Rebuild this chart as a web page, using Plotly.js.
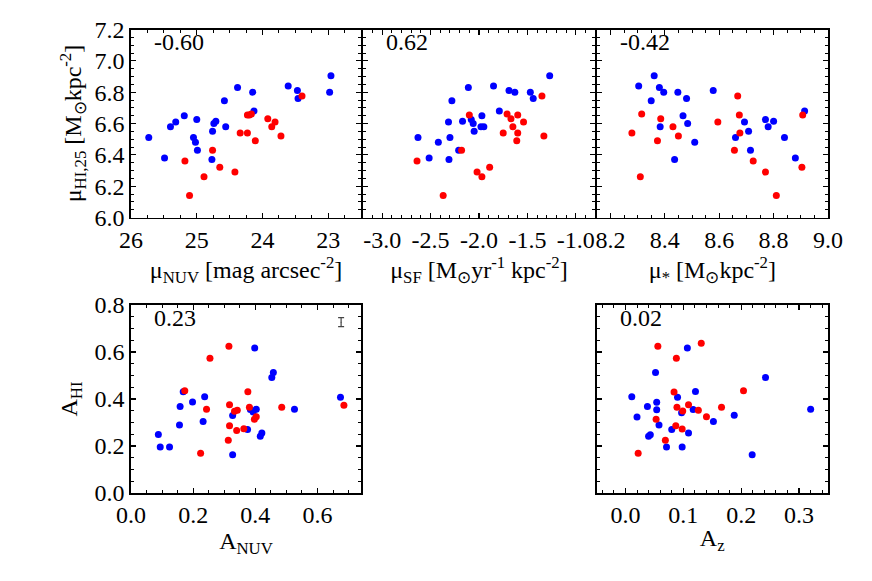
<!DOCTYPE html>
<html>
<head>
<meta charset="utf-8">
<script src="https://cdn.plot.ly/plotly-3.0.1.min.js"></script>
<style>
  html, body { margin: 0; padding: 0; background: #fff; }
  #chart { width: 872px; height: 581px; }
</style>
</head>
<body>
<div id="chart"></div>
<script>
// top row: HI surface density vs NUV, SFR and stellar surface densities
const muHiBlue = [6.37, 6.38, 6.43, 6.48, 6.51, 6.51, 6.55, 6.58, 6.58, 6.60, 6.61, 6.615,
  6.625, 6.65, 6.68, 6.745, 6.76, 6.80, 6.80, 6.81, 6.83, 6.84, 6.905];
const muNuvBlue = [24.77, 25.49, 24.99, 25.02, 25.73, 25.05, 24.76, 25.40, 24.56, 24.74, 25.32, 24.71,
  25.00, 25.19, 24.13, 24.58, 23.46, 24.15, 22.98, 23.47, 24.38, 23.61, 22.96];
const muSfBlue = [-2.31, -2.515, -2.21, -2.42, -2.63, -2.30, -2.05, -1.98, -1.95, -2.06, -2.315, -2.17,
  -2.08, -1.97, -1.79, -2.28, -1.44, -1.63, -1.47, -1.69, -2.11, -1.85, -1.27];
const muStarBlue = [8.436, 8.88, 8.715, 8.51, 8.66, 8.84, 8.708, 8.383, 8.78, 8.484, 8.693, 8.80,
  8.77, 8.467, 8.914, 8.35, 8.48, 8.448, 8.396, 8.578, 8.38, 8.304, 8.361];

const muHiRed = [6.14, 6.26, 6.29, 6.32, 6.36, 6.43, 6.49, 6.52, 6.54, 6.54, 6.58, 6.61,
  6.63, 6.655, 6.655, 6.66, 6.775];
const muNuvRed = [25.11, 24.89, 24.42, 24.65, 25.18, 24.76, 24.11, 23.72, 24.34, 24.23, 23.86, 23.81,
  23.92, 24.23, 24.20, 24.17, 23.40];
const muSfRed = [-2.37, -1.97, -2.02, -1.89, -2.64, -2.18, -1.61, -1.33, -1.75, -1.60, -1.65, -1.54,
  -1.67, -1.60, -2.10, -1.71, -1.35];
const muStarRed = [8.81, 8.31, 8.77, 8.904, 8.725, 8.656, 8.373, 8.45, 8.676, 8.279, 8.43, 8.595,
  8.385, 8.674, 8.907, 8.315, 8.668];

// bottom row: HI asymmetry vs NUV and z-band asymmetry
const aNuvBlue = [0.088, 0.094, 0.124, 0.156, 0.158, 0.168, 0.198, 0.232, 0.237, 0.327, 0.327,
  0.375, 0.384, 0.393, 0.403, 0.398, 0.416, 0.421, 0.453, 0.458, 0.526, 0.674];
const aHiBlueL = [0.249, 0.196, 0.196, 0.289, 0.368, 0.431, 0.387, 0.304, 0.410, 0.330, 0.163,
  0.270, 0.355, 0.345, 0.356, 0.617, 0.241, 0.255, 0.492, 0.513, 0.356, 0.407];
const aNuvRed = [0.173, 0.224, 0.243, 0.254, 0.315, 0.317, 0.313, 0.317, 0.333, 0.342, 0.340,
  0.363, 0.376, 0.381, 0.397, 0.403, 0.485, 0.685];
const aHiRedL = [0.435, 0.169, 0.356, 0.573, 0.624, 0.376, 0.225, 0.286, 0.348, 0.352, 0.266,
  0.273, 0.431, 0.365, 0.314, 0.324, 0.365, 0.373];

const aZBlue = [0.011, 0.020, 0.038, 0.040, 0.043, 0.052, 0.054, 0.054, 0.058, 0.071, 0.080, 0.090,
  0.097, 0.098, 0.107, 0.109, 0.117, 0.121, 0.152, 0.188, 0.219, 0.242, 0.320];
const aHiBlueR = [0.410, 0.323, 0.368, 0.242, 0.248, 0.513, 0.386, 0.354, 0.289, 0.196, 0.270, 0.407,
  0.341, 0.196, 0.617, 0.255, 0.355, 0.432, 0.304, 0.331, 0.163, 0.492, 0.356];
const aZRed = [0.022, 0.053, 0.056, 0.069, 0.084, 0.087, 0.088, 0.089, 0.098, 0.099, 0.109, 0.126,
  0.131, 0.140, 0.166, 0.204];
const aHiRedR = [0.169, 0.314, 0.624, 0.225, 0.430, 0.286, 0.573, 0.365, 0.272, 0.349, 0.376, 0.352,
  0.637, 0.324, 0.365, 0.435];

// typical error bar in the A_NUV panel
const errX = [0.676];
const errY = [0.727];
const errSize = [0.019];

// correlation coefficients, one per panel
const corrLabels = ['-0.60', '0.62', '-0.42', '0.23', '0.02'];

// tick values and labels
const nuvTicks = [26, 25, 24, 23];
const nuvLabels = ['26', '25', '24', '23'];
const sfTicks = [-3.0, -2.5, -2.0, -1.5, -1.0];
const sfLabels = ['-3.0', '-2.5', '-2.0', '-1.5', '-1.0'];
const starTicks = [8.2, 8.4, 8.6, 8.8, 9.0];
const starLabels = ['8.2', '8.4', '8.6', '8.8', '9.0'];
const hiTicks = [6.0, 6.2, 6.4, 6.6, 6.8, 7.0, 7.2];
const hiLabels = ['6.0', '6.2', '6.4', '6.6', '6.8', '7.0', '7.2'];
const aNuvTicks = [0.0, 0.2, 0.4, 0.6];
const aNuvLabels = ['0.0', '0.2', '0.4', '0.6'];
const aZTicks = [0.0, 0.1, 0.2, 0.3];
const aZLabels = ['0.0', '0.1', '0.2', '0.3'];
const aHiTicks = [0.0, 0.2, 0.4, 0.6, 0.8];
const aHiLabels = ['0.0', '0.2', '0.4', '0.6', '0.8'];

const FONT = 'Liberation Serif';
const W = 872, H = 581;

function frameAxis(opts) {
  return {
    range: opts.range,
    domain: opts.domain,
    anchor: opts.anchor,
    tickmode: 'array',
    tickvals: opts.tickvals,
    ticktext: opts.ticktext,
    showticklabels: opts.labels !== false,
    ticks: 'inside',
    ticklen: 5,
    tickwidth: 1.3,
    tickcolor: 'black',
    minor: {
      ticks: 'inside', ticklen: 3, tickwidth: 1, tickcolor: 'black',
      tickmode: 'linear', tick0: opts.tickvals[0], dtick: opts.minor, showgrid: false
    },
    showline: true,
    linewidth: 1.6,
    linecolor: 'black',
    mirror: 'allticks',
    showgrid: false,
    zeroline: false,
    fixedrange: true,
    tickfont: { family: FONT, size: 24, color: 'black' },
    title: opts.title ? {
      text: opts.title,
      standoff: opts.standoff || 2,
      font: { family: FONT, size: 24, color: 'black' }
    } : undefined
  };
}

function dots(x, y, color, xa, ya) {
  return {
    x: x, y: y, xaxis: xa, yaxis: ya,
    type: 'scatter', mode: 'markers',
    marker: { color: color, size: 7 },
    hoverinfo: 'skip'
  };
}

function px(a, b) { return [a / W, b / W]; }
function py(top, bottom) { return [(H - bottom) / H, (H - top) / H]; }

const BLUE = 'rgb(0,0,255)';
const RED = 'rgb(255,0,0)';

const data = [
  dots(muNuvBlue, muHiBlue, BLUE, 'x', 'y'),
  dots(muNuvRed, muHiRed, RED, 'x', 'y'),
  dots(muSfBlue, muHiBlue, BLUE, 'x2', 'y2'),
  dots(muSfRed, muHiRed, RED, 'x2', 'y2'),
  dots(muStarBlue, muHiBlue, BLUE, 'x3', 'y3'),
  dots(muStarRed, muHiRed, RED, 'x3', 'y3'),
  dots(aNuvBlue, aHiBlueL, BLUE, 'x4', 'y4'),
  dots(aNuvRed, aHiRedL, RED, 'x4', 'y4'),
  dots(aZBlue, aHiBlueR, BLUE, 'x5', 'y5'),
  dots(aZRed, aHiRedR, RED, 'x5', 'y5'),
  {
    x: errX, y: errY, xaxis: 'x4', yaxis: 'y4',
    type: 'scatter', mode: 'markers',
    marker: { size: 1, color: '#444' },
    error_y: { type: 'data', array: errSize, visible: true, color: '#444', thickness: 1.2, width: 3 },
    hoverinfo: 'skip'
  }
];

// shared borders: neighbouring panels stop 1.6 px apart so their frame lines coincide
const topRow = py(29.5, 217.5);
const botRow = py(305, 493);
const colL = px(131, 361.2);
const colM = px(362.8, 595.2);
const colR = px(596.8, 828);
const colBL = px(131, 361);
const colBR = px(596.5, 828);

const layout = {
  width: W,
  height: H,
  margin: { l: 0, r: 0, t: 0, b: 0 },
  paper_bgcolor: 'white',
  plot_bgcolor: 'white',
  showlegend: false,
  font: { family: FONT, color: 'black' },

  xaxis: frameAxis({ range: [26, 22.5], domain: colL, anchor: 'y', tickvals: nuvTicks, ticktext: nuvLabels,
    minor: 0.25, title: 'μ<sub>NUV</sub> [mag arcsec<sup>-2</sup>]' }),
  yaxis: frameAxis({ range: [6.0, 7.2], domain: topRow, anchor: 'x', tickvals: hiTicks, ticktext: hiLabels,
    minor: 0.05, title: 'μ<sub>HI,25</sub> [M<sub>⊙</sub>kpc<sup>-2</sup>]', standoff: 6 }),

  xaxis2: frameAxis({ range: [-3.2, -0.8], domain: colM, anchor: 'y2', tickvals: sfTicks, ticktext: sfLabels,
    minor: 0.1, title: 'μ<sub>SF</sub> [M<sub>⊙</sub>yr<sup>-1</sup> kpc<sup>-2</sup>]' }),
  yaxis2: frameAxis({ range: [6.0, 7.2], domain: topRow, anchor: 'x2', tickvals: hiTicks, ticktext: hiLabels,
    minor: 0.05, labels: false }),

  xaxis3: frameAxis({ range: [8.15, 9.0], domain: colR, anchor: 'y3', tickvals: starTicks, ticktext: starLabels,
    minor: 0.05, title: 'μ<sub>*</sub> [M<sub>⊙</sub>kpc<sup>-2</sup>]' }),
  yaxis3: frameAxis({ range: [6.0, 7.2], domain: topRow, anchor: 'x3', tickvals: hiTicks, ticktext: hiLabels,
    minor: 0.05, labels: false }),

  xaxis4: frameAxis({ range: [0, 0.74], domain: colBL, anchor: 'y4', tickvals: aNuvTicks, ticktext: aNuvLabels,
    minor: 0.05, title: 'A<sub>NUV</sub>' }),
  yaxis4: frameAxis({ range: [0, 0.8], domain: botRow, anchor: 'x4', tickvals: aHiTicks, ticktext: aHiLabels,
    minor: 0.05, title: 'A<sub>HI</sub>', standoff: 10 }),

  xaxis5: frameAxis({ range: [-0.05, 0.35], domain: colBR, anchor: 'y5', tickvals: aZTicks, ticktext: aZLabels,
    minor: 0.02, title: 'A<sub>z</sub>' }),
  yaxis5: frameAxis({ range: [0, 0.8], domain: botRow, anchor: 'x5', tickvals: aHiTicks, ticktext: aHiLabels,
    minor: 0.05, labels: false }),

  annotations: ['', '2', '3', '4', '5'].map((n, i) => ({
    text: corrLabels[i],
    xref: 'x' + n + ' domain', yref: 'y' + n + ' domain',
    x: 0, y: 1, xanchor: 'left', yanchor: 'top',
    xshift: 21, yshift: 2,
    showarrow: false,
    font: { family: FONT, size: 24, color: 'black' }
  }))
};

Plotly.newPlot('chart', data, layout, { staticPlot: true, displayModeBar: false });
</script>
</body>
</html>
